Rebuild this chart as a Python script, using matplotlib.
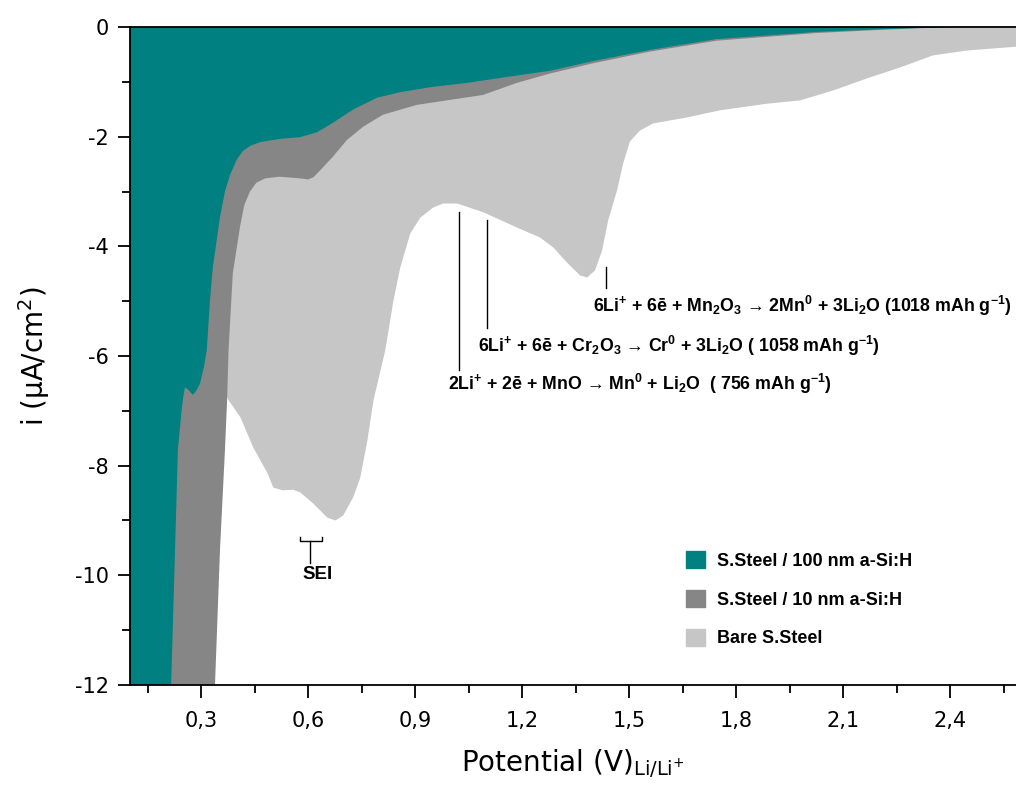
import numpy as np
import matplotlib
matplotlib.use('Agg')
import matplotlib.pyplot as plt
from matplotlib.patches import Patch
from matplotlib.ticker import FuncFormatter, FixedLocator

plt.rcParams['font.family'] = ['Liberation Sans', 'DejaVu Sans']
plt.rcParams['axes.unicode_minus'] = False
plt.rcParams['mathtext.fontset'] = 'custom'
plt.rcParams['mathtext.rm'] = 'DejaVu Sans'
plt.rcParams['mathtext.bf'] = 'Liberation Sans:bold'
plt.rcParams['mathtext.it'] = 'DejaVu Sans:italic'
plt.rcParams['mathtext.sf'] = 'DejaVu Sans'

# --- curves (V vs Li/Li+, uA/cm2)
v_100nm = [0.10, 0.20, 0.216, 0.227, 0.235, 0.246, 0.250, 0.255, 0.265, 0.277,
           0.288, 0.297, 0.308, 0.316, 0.325, 0.333, 0.353, 0.367, 0.381, 0.40,
           0.417, 0.44, 0.465, 0.521, 0.577, 0.625, 0.669, 0.725, 0.793, 0.857,
           0.950, 1.045, 1.137, 1.277, 1.40, 1.557, 1.745, 2.025, 2.21, 2.40, 2.585]
i_100nm = [-15, -15, -12.0, -9.54, -7.71, -6.95, -6.75, -6.57, -6.62, -6.71,
           -6.62, -6.50, -6.20, -5.89, -4.98, -4.38, -3.47, -3.0, -2.70, -2.42,
           -2.26, -2.16, -2.10, -2.04, -2.01, -1.92, -1.75, -1.51, -1.29, -1.19,
           -1.09, -1.02, -0.93, -0.80, -0.62, -0.42, -0.22, -0.09, -0.04, 0.0, 0.0]

v_10nm = [0.10, 0.30, 0.339, 0.353, 0.367, 0.373, 0.377, 0.389, 0.409, 0.421,
          0.437, 0.455, 0.480, 0.52, 0.577, 0.600, 0.615, 0.633, 0.669, 0.709,
          0.754, 0.810, 0.905, 0.997, 1.090, 1.185, 1.277, 1.40, 1.557, 1.745,
          2.025, 2.21, 2.40, 2.585]
i_10nm = [-15, -15, -12.0, -9.54, -7.71, -6.80, -5.89, -4.49, -3.65, -3.25,
          -3.0, -2.84, -2.76, -2.73, -2.76, -2.78, -2.74, -2.62, -2.37, -2.06,
          -1.82, -1.60, -1.42, -1.33, -1.24, -1.02, -0.85, -0.66, -0.45, -0.25,
          -0.11, -0.05, 0.0, 0.0]

v_bare = [0.34, 0.373, 0.409, 0.445, 0.485, 0.501, 0.527, 0.557, 0.577, 0.613,
          0.653, 0.675, 0.697, 0.725, 0.745, 0.765, 0.782, 0.815, 0.838, 0.857,
          0.885, 0.913, 0.950, 0.978, 1.017, 1.090, 1.185, 1.249, 1.286, 1.325,
          1.361, 1.381, 1.403, 1.423, 1.440, 1.465, 1.482, 1.501, 1.529, 1.566,
          1.661, 1.754, 1.885, 1.978, 2.070, 2.165, 2.258, 2.350, 2.445, 2.585]
i_bare = [-6.0, -6.77, -7.11, -7.66, -8.13, -8.39, -8.44, -8.43, -8.48, -8.68,
          -8.94, -8.99, -8.90, -8.57, -8.21, -7.53, -6.80, -5.89, -4.98, -4.38,
          -3.76, -3.47, -3.28, -3.21, -3.21, -3.37, -3.65, -3.83, -4.01, -4.29,
          -4.52, -4.56, -4.43, -4.07, -3.52, -2.97, -2.48, -2.08, -1.88, -1.75,
          -1.64, -1.51, -1.39, -1.33, -1.15, -0.93, -0.73, -0.51, -0.42, -0.35]

labels = ['S.Steel / 100 nm a-Si:H', 'S.Steel / 10 nm a-Si:H', 'Bare S.Steel']
colors = ['#008080', '#868686', '#c6c6c6']

# reaction marker lines: (V, i_top, i_bottom)
marks = [(1.022, -3.38, -6.26), (1.101, -3.52, -5.49), (1.434, -4.38, -4.76)]
eqs = [r"6Li$^{\mathbf{+}}$ + 6ē + Mn$_{\mathbf{2}}$O$_{\mathbf{3}}$ → 2Mn$^{\mathbf{0}}$ + 3Li$_{\mathbf{2}}$O (1018 mAh g$^{\mathbf{-1}}$)",
       r"6Li$^{\mathbf{+}}$ + 6ē + Cr$_{\mathbf{2}}$O$_{\mathbf{3}}$ → Cr$^{\mathbf{0}}$ + 3Li$_{\mathbf{2}}$O ( 1058 mAh g$^{\mathbf{-1}}$)",
       r"2Li$^{\mathbf{+}}$ + 2ē + MnO → Mn$^{\mathbf{0}}$ + Li$_{\mathbf{2}}$O  ( 756 mAh g$^{\mathbf{-1}}$)"]
eq_pos = [(1.398, -5.20), (1.076, -5.93), (0.992, -6.62)]

fig = plt.figure(figsize=(10.16, 7.85), dpi=100)
ax = fig.add_axes([0.1277, 0.1274, 0.8723, 0.8382])

ax.fill_between(v_bare, 0, i_bare, color=colors[2], lw=0, zorder=1)
ax.fill_between(v_10nm, 0, i_10nm, color=colors[1], lw=0, zorder=2)
ax.fill_between(v_100nm, 0, i_100nm, color=colors[0], lw=0, zorder=3)

for xv, y0, y1 in marks:
    ax.plot([xv, xv], [y0, y1], color='k', lw=1, zorder=4)
for s, (xv, yv) in zip(eqs, eq_pos):
    ax.text(xv, yv, s, fontsize=12.8, fontweight='bold', ha='left', va='baseline', zorder=5)

# SEI bracket
ax.plot([0.577, 0.577, 0.639, 0.639], [-9.30, -9.37, -9.37, -9.30], color='k', lw=1, zorder=4)
ax.plot([0.605, 0.605], [-9.37, -9.78], color='k', lw=1, zorder=4)
ax.text(0.627, -9.99, 'SEI', fontsize=13.5, fontweight='bold', ha='center', va='center')

ax.set_xlim(0.1, 2.585)
ax.set_ylim(-12, 0)
ax.xaxis.set_major_locator(FixedLocator([0.3, 0.6, 0.9, 1.2, 1.5, 1.8, 2.1, 2.4]))
ax.xaxis.set_minor_locator(FixedLocator([0.15, 0.45, 0.75, 1.05, 1.35, 1.65, 1.95, 2.25, 2.55]))
ax.yaxis.set_major_locator(FixedLocator([0, -2, -4, -6, -8, -10, -12]))
ax.yaxis.set_minor_locator(FixedLocator([-1, -3, -5, -7, -9, -11]))
ax.xaxis.set_major_formatter(FuncFormatter(lambda v, p: ('%.1f' % v).replace('.', ',')))
ax.yaxis.set_major_formatter(FuncFormatter(lambda v, p: '%d' % round(v)))
ax.tick_params(which='major', length=9, width=1.3, labelsize=15)
ax.tick_params(axis='x', which='major', pad=9.5)
ax.tick_params(axis='y', which='major', pad=6)
ax.tick_params(which='minor', length=5.5, width=1.3)
ax.tick_params(top=False, right=False)
for lab in ax.get_xticklabels() + ax.get_yticklabels():
    lab.set_family('DejaVu Sans')
for sp in ['left', 'bottom', 'top']:
    ax.spines[sp].set_linewidth(1.3)
ax.spines['right'].set_visible(False)
for sp in ax.spines.values():
    sp.set_zorder(6)

ax.set_xlabel(r'Potential (V)$_{\mathrm{Li/Li^{+}}}$', fontsize=20, labelpad=12, family='DejaVu Sans')
ax.set_ylabel(r'i ($\mathrm{\mu}$A/cm$^{2}$)', fontsize=20, family='DejaVu Sans')
ax.yaxis.set_label_coords(-0.088, 0.5)

handles = [Patch(color=c) for c in colors]
ax.legend(handles, labels, loc='upper left', bbox_to_anchor=(0.6277, 0.203),
          frameon=False, prop={'family': 'Liberation Sans', 'weight': 'bold', 'size': 13},
          handlelength=1.05, handleheight=1.05, handletextpad=0.65,
          labelspacing=1.12, borderpad=0, borderaxespad=0)

fig.savefig('out.png', dpi=100)
